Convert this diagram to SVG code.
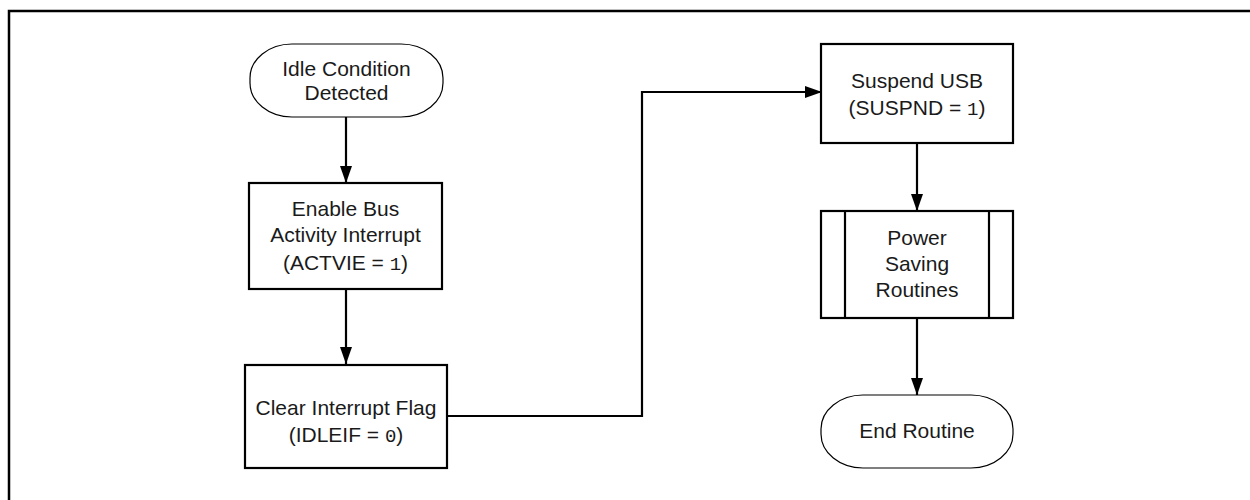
<svg xmlns="http://www.w3.org/2000/svg" width="1250" height="500" viewBox="0 0 1250 500">
<defs>
<marker id="ah" markerWidth="18" markerHeight="12" refX="17" refY="6" orient="auto" markerUnits="userSpaceOnUse">
<path d="M0,0 L17,6 L0,12 Z" fill="#000"/>
</marker>
<style>
.box{fill:#fff;stroke:#000;stroke-width:2.2}
.term{fill:#fff;stroke:#000;stroke-width:1.2}
.t{font-family:"Liberation Sans",Arial,sans-serif;font-size:21px;fill:#1a1a1a;text-anchor:middle}
.m{font-family:"Liberation Mono","Courier New",monospace;font-size:19px}
.c{fill:none;stroke:#000;stroke-width:2.2}
</style>
</defs>
<rect width="1250" height="500" fill="#fff"/>
<path d="M9,500 L9,11 L1250,11" fill="none" stroke="#000" stroke-width="2.5"/>
<g id="connectors">
<path class="c" d="M346,117 L346,183" marker-end="url(#ah)"/>
<path class="c" d="M346,289 L346,364" marker-end="url(#ah)"/>
<path class="c" d="M447,416 L642,416 L642,92 L822,92" marker-end="url(#ah)"/>
<path class="c" d="M917,143 L917,211" marker-end="url(#ah)"/>
<path class="c" d="M917,318 L917,395" marker-end="url(#ah)"/>
</g>
<g id="n-idle">
<rect class="term" x="250" y="44" width="193" height="73" rx="42" ry="34"/>
<text class="t" x="346.5" y="76">Idle Condition</text>
<text class="t" x="346.5" y="100">Detected</text>
</g>
<g id="n-enable">
<rect class="box" x="249" y="183" width="193" height="106"/>
<text class="t" x="345.5" y="216">Enable Bus</text>
<text class="t" x="345.5" y="242">Activity Interrupt</text>
<text class="t" x="345.5" y="270">(ACTVIE = <tspan class="m">1</tspan>)</text>
</g>
<g id="n-clear">
<rect class="box" x="245" y="365" width="202" height="103"/>
<text class="t" x="346" y="415">Clear Interrupt Flag</text>
<text class="t" x="346" y="442">(IDLEIF = <tspan class="m">0</tspan>)</text>
</g>
<g id="n-suspend">
<rect class="box" x="821" y="44" width="192" height="99"/>
<text class="t" x="917" y="88">Suspend USB</text>
<text class="t" x="917" y="115">(SUSPND = <tspan class="m">1</tspan>)</text>
</g>
<g id="n-power">
<rect class="box" x="821" y="211" width="192" height="107"/>
<line class="c" x1="845" y1="211" x2="845" y2="318"/>
<line class="c" x1="989" y1="211" x2="989" y2="318"/>
<text class="t" x="917" y="245">Power</text>
<text class="t" x="917" y="271">Saving</text>
<text class="t" x="917" y="297">Routines</text>
</g>
<g id="n-end">
<rect class="term" x="821" y="395" width="192" height="73" rx="42" ry="34"/>
<text class="t" x="917" y="438">End Routine</text>
</g>
</svg>
